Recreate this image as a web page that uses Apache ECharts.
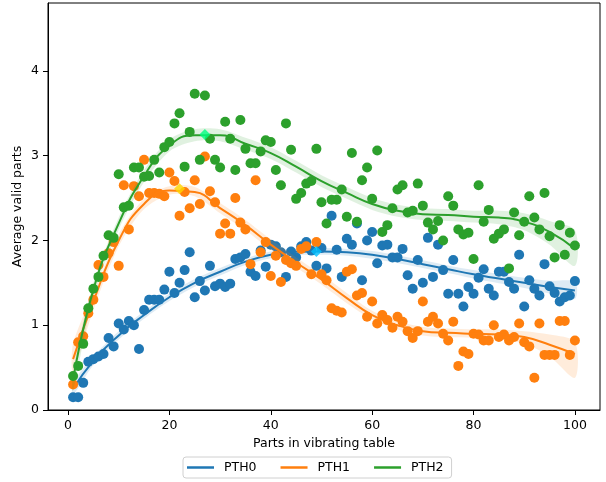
<!DOCTYPE html>
<html><head><meta charset="utf-8">
<script src="https://cdn.jsdelivr.net/npm/echarts@6/dist/echarts.min.js"></script>
<style>html,body{margin:0;padding:0;background:#fff}#c{width:606px;height:482px}</style>
</head><body><div id="c"></div>
<script>
const seriesNames = ['PTH0', 'PTH1', 'PTH2'];
const xParts = [1,2,3,4,5,6,7,8,9,10,11,12,13,14,15,16,17,18,19,20,21,22,23,24,25,26,27,28,29,30,31,32,33,34,35,36,37,38,39,40,41,42,43,44,45,46,47,48,49,50,51,52,53,54,55,56,57,58,59,60,61,62,63,64,65,66,67,68,69,70,71,72,73,74,75,76,77,78,79,80,81,82,83,84,85,86,87,88,89,90,91,92,93,94,95,96,97,98,99,100];
const pth0 = [0.15,0.15,0.32,0.57,0.6,0.63,0.66,0.85,0.75,1.02,
 0.95,1.05,1.0,0.72,1.18,1.3,1.3,1.3,1.42,1.63,
 1.38,1.5,1.65,1.86,1.33,1.52,1.41,1.7,1.46,1.49,
 1.45,1.49,1.78,1.8,1.84,1.63,1.58,1.88,1.69,1.95,
 1.93,1.86,1.57,1.87,1.8,1.93,1.98,1.88,1.7,1.91,
 1.67,2.29,1.89,1.57,2.02,1.95,2.2,1.53,2.0,2.1,
 1.73,1.94,1.95,1.8,1.8,1.9,1.59,1.43,1.77,1.5,
 2.03,1.57,1.95,1.65,1.37,1.77,1.37,1.22,1.45,1.37,
 1.56,1.66,1.43,1.35,1.63,1.63,1.51,1.43,1.83,1.22,
 1.53,1.43,1.35,1.72,1.46,1.38,1.28,1.33,1.35,1.52];
const pth1 = [0.3,0.8,0.87,1.14,1.3,1.71,1.57,1.85,1.98,1.7,
 2.65,2.13,2.64,2.52,2.95,2.56,2.56,2.55,2.52,2.8,
 2.7,2.29,2.57,2.38,2.71,2.43,2.99,2.58,2.45,2.08,
 2.2,2.08,2.5,2.21,2.13,1.72,2.71,1.86,1.98,1.58,
 1.82,1.51,1.77,1.73,1.7,1.9,1.93,1.6,1.98,1.6,
 1.53,1.2,1.17,1.15,1.63,1.66,1.35,1.38,1.1,1.28,
 1.02,1.12,1.06,0.97,1.1,1.04,0.93,0.85,0.93,1.28,
 1.04,1.1,1.02,0.9,0.82,1.04,0.52,0.69,0.66,0.9,
 0.89,0.82,0.82,1.0,0.86,0.89,0.82,0.86,1.02,0.8,
 0.75,0.38,1.02,0.65,0.65,0.65,1.05,1.05,0.65,0.82];
const pth2 = [0.4,0.52,0.78,1.2,1.43,1.57,1.82,2.06,2.03,2.78,
 2.39,2.41,2.86,2.86,2.75,2.76,2.95,2.8,3.1,3.16,
 3.38,3.5,2.87,3.28,3.73,2.95,3.71,3.2,2.95,2.86,
 3.4,3.2,2.83,3.42,3.08,2.91,2.91,3.05,3.18,3.16,
 2.83,2.65,3.38,3.07,2.49,2.56,2.67,2.7,3.08,2.45,
 2.2,2.48,2.48,2.6,2.28,3.03,2.22,2.71,2.86,2.49,
 3.06,2.1,2.18,2.38,2.6,2.65,2.33,2.35,2.67,2.41,
 2.21,2.13,2.23,2.0,2.52,2.41,2.13,2.07,2.09,1.78,
 2.65,2.22,2.36,2.02,2.08,2.13,1.67,2.33,2.06,2.22,
 2.52,2.27,2.13,2.56,2.05,1.8,2.18,1.83,2.09,1.94];

const fitX = [1,5,10,15,20,25,30,35,40,45,50,55,60,65,70,75,80,85,90,95,100];
const fit0 = [0.25,0.58,0.88,1.12,1.33,1.5,1.63,1.75,1.83,1.865,1.87,1.86,1.83,1.78,1.72,1.66,1.6,1.55,1.5,1.45,1.41];
const fit0Low = [0.18,0.53,0.83,1.075,1.285,1.455,1.585,1.71,1.79,1.825,1.83,1.82,1.785,1.735,1.675,1.615,1.55,1.495,1.44,1.375,1.31];
const fit0High = [0.32,0.63,0.93,1.165,1.375,1.545,1.675,1.79,1.87,1.905,1.91,1.9,1.875,1.825,1.765,1.705,1.65,1.605,1.56,1.525,1.51];
const fit1 = [0.6,1.28,2.0,2.43,2.59,2.57,2.38,2.18,1.95,1.74,1.54,1.32,1.12,1.0,0.93,0.91,0.9,0.89,0.86,0.77,0.66];
const fit1Low = [0.45,1.18,1.93,2.37,2.54,2.52,2.32,2.12,1.89,1.68,1.48,1.26,1.07,0.95,0.88,0.86,0.85,0.83,0.78,0.63,0.38];
const fit1High = [0.78,1.38,2.07,2.49,2.64,2.63,2.44,2.24,2.01,1.8,1.6,1.38,1.17,1.05,0.98,0.96,0.95,0.95,0.93,0.89,0.8];
const fit2 = [0.35,1.42,2.2,2.76,3.12,3.24,3.24,3.14,3.03,2.87,2.7,2.56,2.43,2.35,2.31,2.3,2.28,2.27,2.22,2.1,1.9];
const fit2Low = [0.23,1.34,2.13,2.69,3.05,3.17,3.17,3.07,2.96,2.8,2.63,2.49,2.36,2.28,2.24,2.23,2.21,2.19,2.12,1.95,1.7];
const fit2High = [0.47,1.5,2.27,2.83,3.19,3.31,3.31,3.21,3.1,2.94,2.77,2.63,2.5,2.42,2.38,2.37,2.35,2.35,2.32,2.23,2.12];

const peakX = [49, 22, 27];
const peakY = [1.87, 2.61, 3.25];
const xTicks = [0, 20, 40, 60, 80, 100];
const yTicks = [0, 1, 2, 3, 4];

const colors = ['#1f77b4', '#ff7f0e', '#2ca02c'];
const bandColors = ['rgba(31,119,180,0.15)', 'rgba(255,127,14,0.15)', 'rgba(44,160,44,0.15)'];
const peakColors = ['#00bfff', '#ffd700', '#00ff7f'];
const points = [pth0, pth1, pth2];
const fits = [fit0, fit1, fit2];
const lows = [fit0Low, fit1Low, fit2Low];
const highs = [fit0High, fit1High, fit2High];
const font = 'DejaVu Sans';

function bandRenderer(s) {
  return function (params, api) {
    const upper = fitX.map((x, i) => api.coord([x, highs[s][i]]));
    const lower = fitX.map((x, i) => api.coord([x, lows[s][i]])).reverse();
    return {
      type: 'polygon', shape: { points: upper.concat(lower), smooth: 0.3 },
      style: { fill: bandColors[s], stroke: null }
    };
  };
}

const series = [];
for (let s = 0; s < 3; s++) {
  series.push({
    name: seriesNames[s] + ' points', type: 'scatter', symbol: 'circle', symbolSize: 10,
    itemStyle: { color: colors[s], opacity: 1 },
    data: xParts.map((x, i) => [x, points[s][i]]), z: 2 + s * 3, silent: true
  });
  series.push({
    name: seriesNames[s] + ' band', type: 'custom', renderItem: bandRenderer(s), clip: true,
    data: [[fitX[0], fits[s][0]]], z: 3 + s * 3, silent: true
  });
  series.push({
    name: seriesNames[s], type: 'line', smooth: true, symbol: 'none',
    lineStyle: { color: colors[s], width: 2 }, itemStyle: { color: colors[s] },
    data: fitX.map((x, i) => [x, fits[s][i]]), z: 4 + s * 3, silent: true
  });
}
series.push({
  name: 'peaks', type: 'scatter', symbol: 'diamond', symbolSize: 11, z: 20, silent: true,
  data: peakX.map((x, i) => ({ value: [x, peakY[i]], itemStyle: { color: peakColors[i] } }))
});

const chart = echarts.init(document.getElementById('c'), null, { renderer: 'canvas' });
chart.setOption({
  animation: false,
  backgroundColor: '#fff',
  grid: { left: 48, right: 6, top: 3, bottom: 72, show: true, borderColor: '#000', borderWidth: 1, containLabel: false },
  xAxis: {
    type: 'value', min: -3.95, max: 104.95,
    name: 'Parts in vibrating table', nameLocation: 'middle', nameGap: 25,
    nameTextStyle: { color: '#000', fontFamily: font, fontSize: 12.5 },
    axisLine: { show: true, onZero: false, lineStyle: { color: '#000', width: 1 } },
    axisTick: { show: true, length: 5, lineStyle: { color: '#000' }, customValues: xTicks },
    axisLabel: { color: '#000', fontFamily: font, fontSize: 12.5, margin: 9, customValues: xTicks },
    splitLine: { show: false }
  },
  yAxis: {
    type: 'value', min: 0, max: 4.8,
    name: 'Average valid parts', nameLocation: 'middle', nameGap: 24, nameRotate: 90,
    nameMoveOverlap: false,
    nameTextStyle: { color: '#000', fontFamily: font, fontSize: 12.5 },
    axisLine: { show: true, onZero: false, lineStyle: { color: '#000', width: 1 } },
    axisTick: { show: true, length: 5, lineStyle: { color: '#000' }, customValues: yTicks },
    axisLabel: { color: '#000', fontFamily: font, fontSize: 12.5, margin: 9, customValues: yTicks },
    splitLine: { show: false }
  },
  legend: {
    data: seriesNames, left: 183, top: 457, orient: 'horizontal',
    icon: 'rect', itemWidth: 27, itemHeight: 2.5, itemGap: 24,
    padding: [4, 8, 4, 4], borderColor: '#d0d0d0', borderWidth: 1, borderRadius: 3,
    backgroundColor: '#fff',
    textStyle: { color: '#000', fontFamily: font, fontSize: 12.5, padding: [0, 0, 0, 5] }
  },
  series: series
});
</script></body></html>
